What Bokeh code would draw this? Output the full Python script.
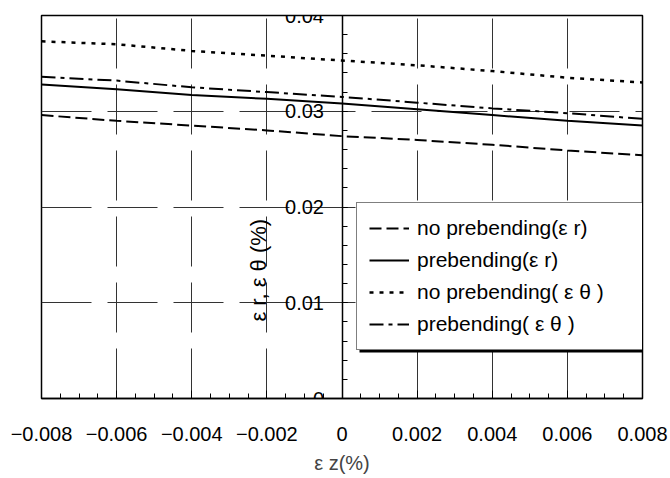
from bokeh.plotting import figure
from bokeh.models import (LinearAxis, SingleIntervalTicker, CustomJSTickFormatter, Legend,
                          LegendItem, Label, BoxAnnotation, Range1d, ColumnDataSource)
from bokeh.embed import file_html
from bokeh.resources import INLINE
import math

# ---- data ----
ez = [-0.008, -0.006, -0.004, -0.002, 0.0, 0.002, 0.004, 0.006, 0.008]
no_pre_er = [0.0296, 0.0290, 0.0285, 0.0280, 0.0274, 0.0270, 0.0265, 0.0259, 0.0254]
pre_er = [0.0328, 0.0323, 0.0317, 0.0313, 0.0308, 0.0302, 0.0296, 0.0290, 0.0285]
no_pre_et = [0.0373, 0.0370, 0.0363, 0.0358, 0.0353, 0.0348, 0.0342, 0.0335, 0.0330]
pre_et = [0.0336, 0.0332, 0.0325, 0.0320, 0.0315, 0.0309, 0.0303, 0.0298, 0.0292]

series_names = ["no prebending(ε r)", "prebending(ε r)", "no prebending( ε θ )", "prebending( ε θ )"]
x_label = "ε z(%)"
y_label = "ε r, ε θ (%)"

FONT = "Liberation Sans"

p = figure(width=668, height=476, output_backend="svg", toolbar_location=None,
           x_range=Range1d(-0.008, 0.008), y_range=Range1d(0, 0.04),
           x_axis_location=None, y_axis_location=None,
           min_border_left=41, min_border_right=26, min_border_top=15, min_border_bottom=75)
p.background_fill_color = "white"
p.border_fill_color = "white"
p.outline_line_color = "black"
p.outline_line_width = 1.5

# x axis (bottom)
xax = LinearAxis(ticker=SingleIntervalTicker(interval=0.002, num_minor_ticks=4))
xax.formatter = CustomJSTickFormatter(code="""
if (Math.abs(tick) < 1e-12) return "0";
return tick.toFixed(3).replace("-", "\u2212");
""")
xax.major_label_text_font = FONT
xax.major_label_text_font_size = "20px"
xax.major_label_text_color = "black"
xax.major_label_standoff = 28
xax.major_tick_in = 8
xax.major_tick_out = 0
xax.minor_tick_in = 5
xax.minor_tick_out = 0
xax.axis_line_color = "black"
xax.axis_line_width = 1.5
xax.major_tick_line_color = "black"
xax.minor_tick_line_color = "black"
xax.axis_label = x_label
xax.axis_label_text_font = FONT
xax.axis_label_text_font_size = "20px"
xax.axis_label_text_font_style = "normal"
xax.axis_label_standoff = 8
p.add_layout(xax, "below")

# y axis at x = 0
yax = LinearAxis(ticker=SingleIntervalTicker(interval=0.01, num_minor_ticks=5), fixed_location=0)
yax.formatter = CustomJSTickFormatter(code="""
if (Math.abs(tick) < 1e-12) return "0";
return tick.toFixed(2);
""")
yax.major_label_text_font = FONT
yax.major_label_text_font_size = "20px"
yax.major_label_text_color = "black"
yax.major_label_standoff = 18
yax.major_tick_in = 5
yax.major_tick_out = 0
yax.minor_tick_in = 5
yax.minor_tick_out = 0
yax.axis_line_color = "black"
yax.axis_line_width = 1.5
yax.major_tick_line_color = "black"
yax.minor_tick_line_color = "black"
p.add_layout(yax, "left")

# grids
p.xgrid.ticker = xax.ticker
p.ygrid.ticker = yax.ticker
for g in (p.xgrid, p.ygrid):
    g.grid_line_color = "#333333"
    g.grid_line_width = 1
    g.grid_line_dash = "50 16"

src = ColumnDataSource(dict(x=ez, a=no_pre_er, b=pre_er, c=no_pre_et, d=pre_et))
r1 = p.line("x", "a", source=src, line_color="black", line_width=2, line_dash="12 5")
r2 = p.line("x", "b", source=src, line_color="black", line_width=2)
r3 = p.line("x", "c", source=src, line_color="black", line_width=2.5, line_dash="4 6")
r4 = p.line("x", "d", source=src, line_color="black", line_width=2, line_dash="14 5 4 5")

# y axis label (rotated)
p.add_layout(Label(x=-0.00222, y=0.0134, text=y_label, angle=math.pi / 2,
                   text_align="center", text_baseline="middle",
                   text_font=FONT, text_font_size="22px", text_color="black"))

# legend shadow
p.add_layout(BoxAnnotation(left=318, right=616, bottom=46, top=193,
                           left_units="screen", right_units="screen",
                           bottom_units="screen", top_units="screen",
                           fill_color="black", fill_alpha=1.0, line_color=None))

legend = Legend(items=[LegendItem(label=n, renderers=[r]) for n, r in zip(series_names, [r1, r2, r3, r4])],
                location=(315, 48))
legend.border_line_color = "black"
legend.border_line_width = 1
legend.background_fill_color = "white"
legend.background_fill_alpha = 1.0
legend.label_text_font = FONT
legend.label_text_font_size = "21px"
legend.label_text_color = "black"
legend.padding = 12
legend.spacing = 6
legend.glyph_width = 40
legend.glyph_height = 26
legend.label_height = 26
legend.label_width = 225
legend.label_standoff = 8
legend.margin = 0
p.add_layout(legend, "center")

open("out.html", "w").write(file_html(p, INLINE))
